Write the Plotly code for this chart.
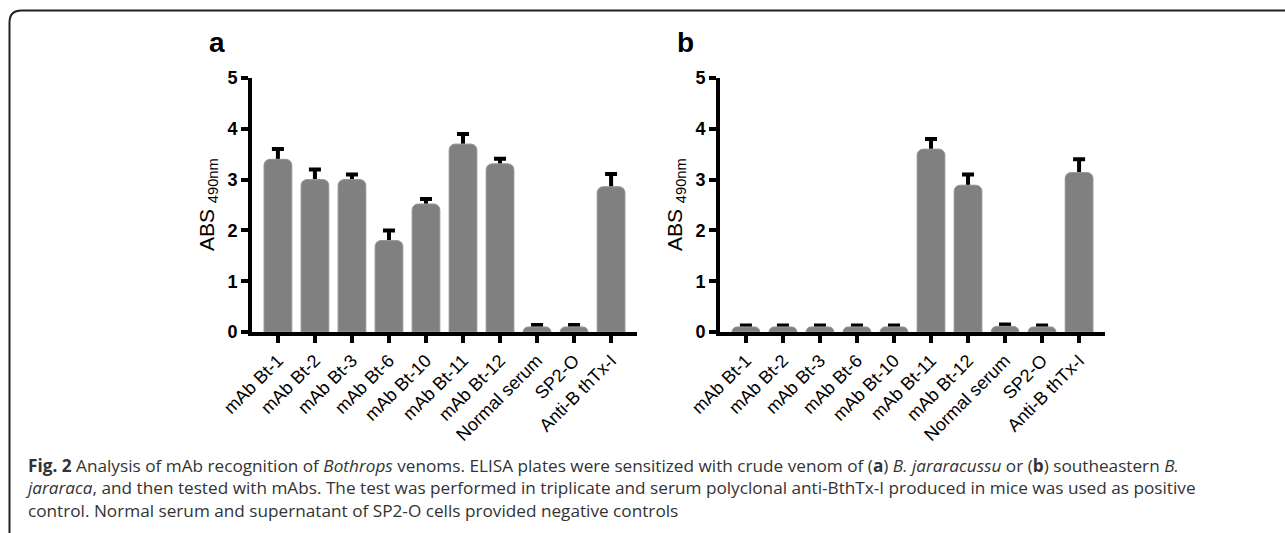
import plotly.graph_objects as go

W, H = 1285, 533

categories = ["mAb Bt-1", "mAb Bt-2", "mAb Bt-3", "mAb Bt-6", "mAb Bt-10",
              "mAb Bt-11", "mAb Bt-12", "Normal serum", "SP2-O", "Anti-B thTx-I"]
values_a = [3.40, 3.00, 3.00, 1.80, 2.52, 3.70, 3.31, 0.10, 0.10, 2.86]
errors_a = [0.20, 0.20, 0.10, 0.20, 0.10, 0.20, 0.10, 0.04, 0.04, 0.25]
values_b = [0.10, 0.10, 0.10, 0.10, 0.10, 3.60, 2.89, 0.11, 0.10, 3.14]
errors_b = [0.03, 0.03, 0.03, 0.03, 0.03, 0.20, 0.21, 0.04, 0.03, 0.26]
y_ticks = [0, 1, 2, 3, 4, 5]

def px(x):
    return x / W

def py(y):
    return 1 - y / H

fig = go.Figure()
for vals, errs, xa, ya in [(values_a, errors_a, "x", "y"), (values_b, errors_b, "x2", "y2")]:
    xs = list(range(len(categories)))
    # bars with error bars (symmetric; lower half hidden under the overlaid bars)
    fig.add_trace(go.Bar(
        x=xs, y=vals, xaxis=xa, yaxis=ya, width=0.75,
        marker=dict(color="#808080", line=dict(width=0), cornerradius=6),
        error_y=dict(type="data", array=errs, symmetric=True,
                     color="black", thickness=4, width=6),
        showlegend=False, hoverinfo="skip",
    ))
    fig.add_trace(go.Bar(
        x=xs, y=vals, xaxis=xa, yaxis=ya, width=0.75,
        marker=dict(color="#808080", line=dict(width=1, color="#9a9a9a"), cornerradius=6),
        showlegend=False,
    ))

xcommon = dict(range=[-0.7, 9.7], tickmode="array", tickvals=list(range(len(categories))),
               ticktext=categories, tickangle=-45, showline=True, linewidth=4, linecolor="black",
               ticks="outside", ticklen=7, tickwidth=3.5, tickcolor="black",
               showgrid=False, zeroline=False, automargin=False,
               tickfont=dict(family="Liberation Sans, Arial", size=18, color="black"))
ycommon = dict(range=[0, 5], tickvals=y_ticks, showline=True, linewidth=4, linecolor="black",
               ticks="outside", ticklen=7, tickwidth=3.5, tickcolor="black",
               showgrid=False, zeroline=False, automargin=False,
               tickfont=dict(family="Liberation Sans, Arial", size=18, color="black", weight="bold"))

ydom = [py(332), py(78)]
fig.update_layout(
    width=W, height=H, margin=dict(l=0, r=0, t=0, b=0),
    paper_bgcolor="white", plot_bgcolor="white", barmode="overlay",
    xaxis=dict(domain=[px(252), px(637)], anchor="y", **xcommon),
    yaxis=dict(domain=ydom, anchor="x", **ycommon),
    xaxis2=dict(domain=[px(720), px(1105)], anchor="y2", **xcommon),
    yaxis2=dict(domain=ydom, anchor="x2", **ycommon),
)

anns = []
for lab, xc, ytitle_x in [("a", 217, 208), ("b", 685, 676)]:
    anns.append(dict(text="<b>%s</b>" % lab, x=px(xc), y=py(42), xref="paper", yref="paper",
                     showarrow=False, xanchor="center", yanchor="middle",
                     font=dict(family="Liberation Sans, Arial", size=28, color="black")))
    anns.append(dict(text="ABS <sub>490nm</sub>", x=px(ytitle_x), y=py(205), xref="paper", yref="paper",
                     showarrow=False, xanchor="center", yanchor="middle", textangle=-90,
                     font=dict(family="Liberation Sans, Arial", size=21, color="black")))

caption_lines = [
    "<b>Fig. 2</b> Analysis of mAb recognition of <i>Bothrops</i> venoms. ELISA plates were sensitized with crude venom of (<b>a</b>) <i>B. jararacussu</i> or (<b>b</b>) southeastern <i>B.</i>",
    "<i>jararaca</i>, and then tested with mAbs. The test was performed in triplicate and serum polyclonal anti-BthTx-I produced in mice was used as positive",
    "control. Normal serum and supernatant of SP2-O cells provided negative controls",
]
anns.append(dict(text="<br>".join(caption_lines), x=px(23), y=py(488), xref="paper", yref="paper",
                 showarrow=False, xanchor="left", yanchor="middle", align="left",
                 font=dict(family="Open Sans", size=17.2, color="#333333")))
fig.update_layout(annotations=anns)

# figure frame: top and left border with rounded corner
x0, y0, r = 9.5, 10.5, 12
path = "M %f,%f L %f,%f Q %f,%f %f,%f L %f,%f" % (
    px(x0), py(H + 5), px(x0), py(y0 + r), px(x0), py(y0), px(x0 + r), py(y0), px(W + 5), py(y0))
fig.add_shape(type="path", path=path, xref="paper", yref="paper",
              line=dict(color="#222222", width=2))

fig.write_html("out.html")
